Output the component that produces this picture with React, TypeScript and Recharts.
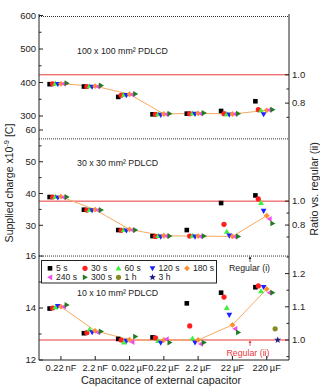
import React from 'react';
import { ComposedChart, Scatter, XAxis, YAxis, ReferenceLine } from 'recharts';

// Capacitance of the external capacitor (x axis categories)
const CAPACITORS = ['0.22\u2009nF', '2.2\u2009nF', '0.022\u2009µF', '0.22\u2009µF', '2.2\u2009µF', '22\u2009µF', '220\u2009µF'];
// Holding times (one series each)
const HOLD_TIMES = ['5 s', '30 s', '60 s', '120 s', '180 s', '240 s', '300 s', '1 h', '3 h'];

// Supplied charge [x10^-9 C]; rows follow HOLD_TIMES, columns follow CAPACITORS
const CHARGE_100MM = [
  [395, 388, 357, 305, 307, 315, 344],
  [396, 388, 362, 305, 307, 307, 319],
  [397, 389, 364, 306, 308, 306, 317],
  [395, 387, 362, 303, 306, 304, 305],
  [396, 389, 365, 306, 308, 306, 317],
  [396, 388, 364, 305, 307, 306, 318],
  [398, 391, 366, 307, 309, 307, 319],
  [null, null, null, null, null, null, null],
  [null, null, null, null, null, null, null],
];
const CHARGE_30MM = [
  [38.9, 34.9, 28.5, 26.6, 28.5, 37.0, 39.4],
  [38.9, 34.8, 28.4, 26.5, 26.6, 30.3, 38.3],
  [39.0, 34.9, 28.6, 26.7, 26.7, 28.0, 37.1],
  [38.7, 34.7, 28.3, 26.4, 26.4, 26.7, 34.5],
  [39.0, 34.9, 28.7, 26.7, 26.6, 26.5, 33.0],
  [38.8, 34.8, 28.5, 26.6, 26.5, 26.4, 32.0],
  [38.9, 34.8, 28.5, 26.6, 26.6, 26.5, 30.6],
  [null, null, null, null, null, null, null],
  [null, null, null, null, null, null, null],
];
const CHARGE_10MM = [
  [13.98, 13.03, 12.81, 12.87, 14.18, 14.59, 14.8],
  [14.0, 13.05, 12.77, 12.85, 13.31, 14.42, 14.85],
  [14.03, 13.18, 12.68, 12.74, 12.83, 14.01, 14.65],
  [14.07, 13.06, 12.73, 12.66, 12.67, 13.73, 14.8],
  [14.05, 13.12, 12.78, 12.77, 12.77, 13.35, 14.73],
  [14.05, 13.06, 12.69, 12.8, 12.62, 13.2, 14.59],
  [14.12, 13.1, 12.9, 12.67, 12.67, 13.06, 14.59],
  [null, null, null, null, null, null, 13.2],
  [null, null, null, null, null, null, 12.77],
];

// Reference charge of the regular drive, (i) and (ii), per panel
const REGULAR_I = [597, 57.2, 16.0];
const REGULAR_II = [423, 37.6, 12.77];

const MARKERS = ['square', 'circle', 'up', 'down', 'diamond', 'left', 'right', 'circle', 'star'];
const COLORS = ['#000000', '#ff1f1f', '#3cf03c', '#1f1fff', '#ff8f2a', '#f04cf0', '#1f7d1f', '#8a8a24', '#1f1f84'];
// horizontal spread of the series around each category
const OFFSETS = [-0.33, -0.245, -0.165, -0.09, 0, 0.08, 0.17, 0.245, 0.32];
const LINE_SERIES = 4; // 180 s is joined by a line

const FONT = 'Liberation Sans, Arial, sans-serif';
const INK = '#222';
const RED = '#e83a3a';
const ORANGE_LINE = '#f7aa5e';
const X_DOMAIN: [number, number] = [-0.64, 6.65];

function Marker({ kind, cx, cy, color }: { kind: string; cx: number; cy: number; color: string }) {
  if (cx == null || cy == null) return <g />;
  const s = 2.9;
  switch (kind) {
    case 'square':
      return <rect x={cx - 2.3} y={cy - 2.3} width={4.6} height={4.6} fill={color} />;
    case 'circle':
      return <circle cx={cx} cy={cy} r={2.6} fill={color} />;
    case 'up':
      return <polygon points={`${cx},${cy - s} ${cx - s},${cy + s * 0.75} ${cx + s},${cy + s * 0.75}`} fill={color} />;
    case 'down':
      return <polygon points={`${cx - s},${cy - s * 0.75} ${cx + s},${cy - s * 0.75} ${cx},${cy + s}`} fill={color} />;
    case 'diamond':
      return <polygon points={`${cx},${cy - s} ${cx + s},${cy} ${cx},${cy + s} ${cx - s},${cy}`} fill={color} />;
    case 'left':
      return <polygon points={`${cx - s},${cy} ${cx + s * 0.75},${cy - s} ${cx + s * 0.75},${cy + s}`} fill={color} />;
    case 'right':
      return <polygon points={`${cx + s},${cy} ${cx - s * 0.75},${cy - s} ${cx - s * 0.75},${cy + s}`} fill={color} />;
    case 'star': {
      const pts: string[] = [];
      for (let i = 0; i < 10; i++) {
        const r = i % 2 === 0 ? 3.6 : 1.5;
        const a = -Math.PI / 2 + (i * Math.PI) / 5;
        pts.push(`${cx + r * Math.cos(a)},${cy + r * Math.sin(a)}`);
      }
      return <polygon points={pts.join(' ')} fill={color} />;
    }
    default:
      return <g />;
  }
}

function makeLeftTick(labelled: number[], fmt: (v: number) => string) {
  return (p: any) => {
    const ax = p.x + 3;
    const major = labelled.includes(p.payload.value);
    return (
      <g>
        <line x1={ax} x2={ax + (major ? 4 : 2.5)} y1={p.y} y2={p.y} stroke={INK} strokeWidth={1} />
        {major && (
          <text x={p.x} y={p.y} dy="0.35em" textAnchor="end" fontSize={9.5} fontFamily={FONT} fill={INK}>
            {fmt(p.payload.value)}
          </text>
        )}
      </g>
    );
  };
}

function makeRightTick(labelled: number[]) {
  return (p: any) => {
    const ax = p.x - 3;
    const major = labelled.some((v) => Math.abs(v - p.payload.value) < 1e-9);
    return (
      <g>
        <line x1={ax} x2={ax - (major ? 4 : 2.5)} y1={p.y} y2={p.y} stroke={INK} strokeWidth={1} />
        {major && (
          <text x={p.x} y={p.y} dy="0.35em" textAnchor="start" fontSize={9.5} fontFamily={FONT} fill={INK}>
            {p.payload.value.toFixed(1)}
          </text>
        )}
      </g>
    );
  };
}

function XTick(p: any) {
  const ay = p.y - 2;
  return (
    <g>
      <line x1={p.x} x2={p.x} y1={ay} y2={ay - 4} stroke={INK} strokeWidth={1} />
      <text x={p.x} y={ay + 10.8} textAnchor="middle" fontSize={9.3} fontFamily={FONT} fill={INK}>
        {CAPACITORS[p.payload.value]}
      </text>
    </g>
  );
}

function HoldLegend() {
  const colX = [50, 85, 118.5, 152.5, 187];
  const rowY = [33.3, 42.3];
  const items = HOLD_TIMES.map((label, i) => ({ label, i, col: i < 5 ? i : i - 5, row: i < 5 ? 0 : 1 }));
  return (
    <g>
      <rect x={41.5} y={25.5} width={175} height={22.5} fill="#fff" stroke={INK} strokeWidth={1} />
      {items.map((it) => (
        <g key={it.label}>
          <Marker kind={MARKERS[it.i]} cx={colX[it.col]} cy={rowY[it.row]} color={COLORS[it.i]} />
          <text x={colX[it.col] + 6} y={rowY[it.row]} dy="0.35em" fontSize={8.6} fontFamily={FONT} fill={INK}>
            {it.label}
          </text>
        </g>
      ))}
    </g>
  );
}

type Panel = {
  title: string;
  rows: (number | null)[][];
  top: number;
  height: number;
  mt: number;
  mb: number;
  domain: [number, number];
  major: number[];
  minor: number[];
  ratioMajor: number[];
  ratioMinor: number[];
  idx: number;
  titleY: number;
  bottom?: boolean;
};

const PANELS: Panel[] = [
  {
    title: '100 x 100 mm² PDLCD', rows: CHARGE_100MM, top: 0, height: 130, mt: 14, mb: 7,
    domain: [279.1, 604.5], major: [300, 400, 500, 600], minor: [350, 450, 550],
    ratioMajor: [0.8, 1.0], ratioMinor: [0.7, 0.9], idx: 0, titleY: 54,
  },
  {
    title: '30 x 30 mm² PDLCD', rows: CHARGE_30MM, top: 116, height: 133, mt: 7, mb: 7,
    domain: [24.74, 62.2], major: [30, 40, 50, 60], minor: [35, 45, 55],
    ratioMajor: [0.8, 1.0], ratioMinor: [0.7, 0.9], idx: 1, titleY: 50,
  },
  {
    title: '10 x 10 mm² PDLCD', rows: CHARGE_10MM, top: 235, height: 154, mt: 7, mb: 0,
    domain: [12, 16.54], major: [12, 14, 16], minor: [13, 15],
    ratioMajor: [1.0, 1.1, 1.2], ratioMinor: [0.95, 1.05, 1.15, 1.25], idx: 2, titleY: 60.5, bottom: true,
  },
];

function seriesPoints(row: (number | null)[], s: number) {
  return row
    .map((v, c) => (v == null ? null : { x: c + OFFSETS[s], y: v }))
    .filter((d) => d !== null) as { x: number; y: number }[];
}

function PanelChart({ panel }: { panel: Panel }) {
  const reg = REGULAR_II[panel.idx];
  const ratioDomain: [number, number] = [panel.domain[0] / reg, panel.domain[1] / reg];
  return (
    <div style={{ position: 'absolute', left: 0, top: panel.top }}>
      <ComposedChart
        width={320}
        height={panel.height}
        margin={{ top: panel.mt, right: 6, bottom: panel.mb, left: 8 }}
      >
        <XAxis
          type="number"
          dataKey="x"
          domain={X_DOMAIN}
          allowDataOverflow
          ticks={[0, 1, 2, 3, 4, 5, 6]}
          interval={0}
          hide={!panel.bottom}
          height={29}
          tickSize={0}
          tickMargin={2}
          tickLine={false}
          axisLine={{ stroke: INK }}
          tick={XTick}
        />
        <YAxis
          yAxisId="l"
          type="number"
          dataKey="y"
          domain={panel.domain}
          allowDataOverflow
          ticks={[...panel.major, ...panel.minor]}
          interval={0}
          width={31}
          tickSize={0}
          tickMargin={3}
          tickLine={false}
          axisLine={{ stroke: INK }}
          tick={makeLeftTick(panel.major, (v) => String(v))}
        />
        <YAxis
          yAxisId="r"
          orientation="right"
          type="number"
          domain={ratioDomain}
          allowDataOverflow
          ticks={[...panel.ratioMajor, ...panel.ratioMinor]}
          interval={0}
          width={25}
          tickSize={0}
          tickMargin={3}
          tickLine={false}
          axisLine={{ stroke: INK }}
          tick={makeRightTick(panel.ratioMajor)}
        />
        <ReferenceLine yAxisId="l" y={REGULAR_I[panel.idx]} stroke="#333" strokeWidth={1} strokeDasharray="1 1" />
        <ReferenceLine yAxisId="l" y={reg} stroke={RED} strokeWidth={1} />
        <Scatter
          yAxisId="l"
          data={seriesPoints(panel.rows[LINE_SERIES], LINE_SERIES)}
          line={{ stroke: ORANGE_LINE, strokeWidth: 1 }}
          lineType="joint"
          shape={() => <g />}
          isAnimationActive={false}
        />
        {HOLD_TIMES.map((name, s) => (
          <Scatter
            key={name}
            name={name}
            yAxisId="l"
            data={seriesPoints(panel.rows[s], s)}
            shape={(p: any) => <Marker kind={MARKERS[s]} cx={p.cx} cy={p.cy} color={COLORS[s]} />}
            isAnimationActive={false}
          />
        ))}
        <text x={77} y={panel.titleY} fontSize={8.8} fontFamily={FONT} fill={INK}>
          {panel.title}
        </text>
        {panel.idx === 1 && (
          <g>
            <text
              transform="translate(13,67) rotate(-90)"
              textAnchor="middle"
              fontSize={10.5}
              fontFamily={FONT}
              fill={INK}
            >
              Supplied charge x10
              <tspan dy={-4} fontSize={7.5}>-9</tspan>
              <tspan dy={4}> [C]</tspan>
            </text>
            <text
              transform="translate(318,73) rotate(-90)"
              textAnchor="middle"
              fontSize={10.8}
              fontFamily={FONT}
              fill={INK}
            >
              Ratio vs. regular (ii)
            </text>
          </g>
        )}
        {panel.bottom && (
          <g>
            <HoldLegend />
            <line x1={250} x2={250} y1={27} y2={22} stroke={INK} strokeWidth={0.8} />
            <polygon points="250,21.3 248.6,24 251.4,24" fill={INK} />
            <text x={249.5} y={33.3} dy="0.35em" textAnchor="middle" fontSize={8.8} fontFamily={FONT} fill={INK}>
              Regular (i)
            </text>
            <line x1={250} x2={250} y1={111} y2={106} stroke={RED} strokeWidth={0.8} />
            <polygon points="250,105.3 248.6,108 251.4,108" fill={RED} />
            <text x={248} y={118.3} dy="0.35em" textAnchor="middle" fontSize={8.8} fontFamily={FONT} fill={RED}>
              Regular (ii)
            </text>
            <text x={161} y={149} textAnchor="middle" fontSize={10.8} fontFamily={FONT} fill={INK}>
              Capacitance of external capacitor
            </text>
          </g>
        )}
      </ComposedChart>
    </div>
  );
}

export default function App() {
  return (
    <div style={{ position: 'absolute', left: 0, top: 0, width: 320, height: 389, background: '#fff', overflow: 'hidden' }}>
      {PANELS.map((p) => (
        <PanelChart key={p.idx} panel={p} />
      ))}
    </div>
  );
}
